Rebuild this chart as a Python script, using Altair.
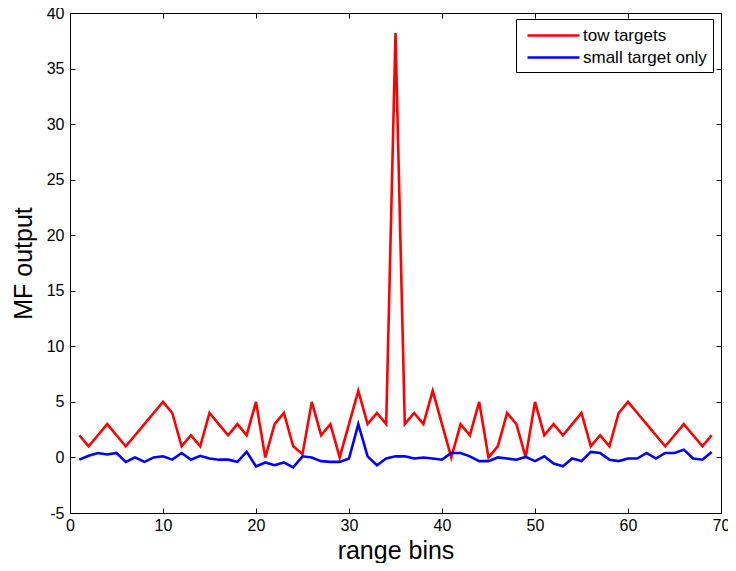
import altair as alt
import pandas as pd

# ---- data ----
bins = list(range(1, 70))
tow_targets = [2, 1, 2, 3, 2, 1, 2, 3, 4, 5,
               4, 1, 2, 1, 4, 3, 2, 3, 2, 5,
               0, 3, 4, 1, 0.3, 5, 2, 3, 0, 3,
               6, 3, 4, 3, 38.2, 3, 4, 3, 6, 3,
               0, 3, 2, 5, 0, 1, 4, 3, 0, 5,
               2, 3, 2, 3, 4, 1, 2, 1, 4, 5,
               4, 3, 2, 1, 2, 3, 2, 1, 2]
small_target_only = [-0.2, 0.15, 0.4, 0.27, 0.4, -0.4, 0, -0.4, 0, 0.1,
                     -0.2, 0.4, -0.2, 0.15, -0.1, -0.2, -0.2, -0.4, 0.5, -0.8,
                     -0.45, -0.7, -0.45, -0.9, 0.1, 0, -0.33, -0.4, -0.4, -0.1,
                     3.0, 0.1, -0.7, -0.1, 0.1, 0.1, -0.1, 0, -0.1, -0.2,
                     0.4, 0.4, 0.1, -0.33, -0.33, 0, -0.1, -0.2, 0.05, -0.33,
                     0.1, -0.55, -0.8, -0.1, -0.33, 0.5, 0.4, -0.2, -0.33, -0.1,
                     -0.1, 0.4, -0.1, 0.4, 0.4, 0.7, -0.1, -0.2, 0.5]
series_names = ["tow targets", "small target only"]
series_colors = ["#ff0000", "#0000ff"]
x_ticks = [0, 10, 20, 30, 40, 50, 60, 70]
y_ticks = [-5, 0, 5, 10, 15, 20, 25, 30, 35, 40]

df = pd.DataFrame({
    "bin": bins * 2,
    "value": tow_targets + small_target_only,
    "series": [series_names[0]] * len(bins) + [series_names[1]] * len(bins),
})

W, H = 651, 500
FONT = "Liberation Sans"
xscale = alt.Scale(domain=[0, 70], nice=False, zero=False)
yscale = alt.Scale(domain=[-5, 40], nice=False, zero=False)

main = alt.Chart(df).mark_line(strokeWidth=2.6, clip=True).encode(
    x=alt.X("bin:Q", scale=xscale,
            axis=alt.Axis(values=x_ticks, title="range bins", ticks=False, domain=False,
                          grid=False, labelFontSize=16, titleFontSize=25, labelPadding=4,
                          titlePadding=5, labelColor="black", titleColor="black",
                          labelFont=FONT, titleFont=FONT, titleFontWeight="normal",
                          labelFlush=False, labelOverlap=False,
                          labelExpr="toString(datum.value)")),
    y=alt.Y("value:Q", scale=yscale,
            axis=alt.Axis(values=y_ticks, title="MF output", ticks=False, domain=False,
                          grid=False, labelFontSize=16, titleFontSize=25, labelPadding=6,
                          titlePadding=10, labelColor="black", titleColor="black",
                          labelFont=FONT, titleFont=FONT, titleFontWeight="normal",
                          labelOverlap=False, labelExpr="toString(datum.value)")),
    color=alt.Color("series:N",
                    scale=alt.Scale(domain=series_names, range=series_colors),
                    legend=alt.Legend(title=None, orient="none", legendX=446, legendY=6,
                                      symbolType="M-0.556,0H5.222", symbolSize=324,
                                      symbolStrokeWidth=2.6, symbolFillColor="transparent",
                                      labelFontSize=17, labelFont=FONT, labelColor="black",
                                      labelOffset=40, padding=6, rowPadding=3,
                                      strokeColor="black", fillColor="white")),
)


def tick_layer(xorient, yorient):
    return alt.Chart(df).mark_line(opacity=0).encode(
        x=alt.X("bin:Q", scale=xscale,
                axis=alt.Axis(orient=xorient, offset=-H, values=x_ticks, labels=False,
                              title=None, domain=False, grid=False, ticks=True,
                              tickSize=5, tickColor="black", tickWidth=1)),
        y=alt.Y("value:Q", scale=yscale,
                axis=alt.Axis(orient=yorient, offset=-W, values=y_ticks, labels=False,
                              title=None, domain=False, grid=False, ticks=True,
                              tickSize=5, tickColor="black", tickWidth=1)),
        detail="series:N",
    )


chart = alt.layer(
    main,
    tick_layer("top", "right"),
    tick_layer("bottom", "left"),
).resolve_axis(x="independent", y="independent").properties(
    width=W, height=H,
    padding={"left": 62, "top": 5, "right": 7, "bottom": 50},
    autosize=alt.AutoSizeParams(type="none"),
    background="white",
).configure_view(stroke="black", strokeWidth=1)

chart.save("out.html", embed_options={"renderer": "svg", "actions": False})
